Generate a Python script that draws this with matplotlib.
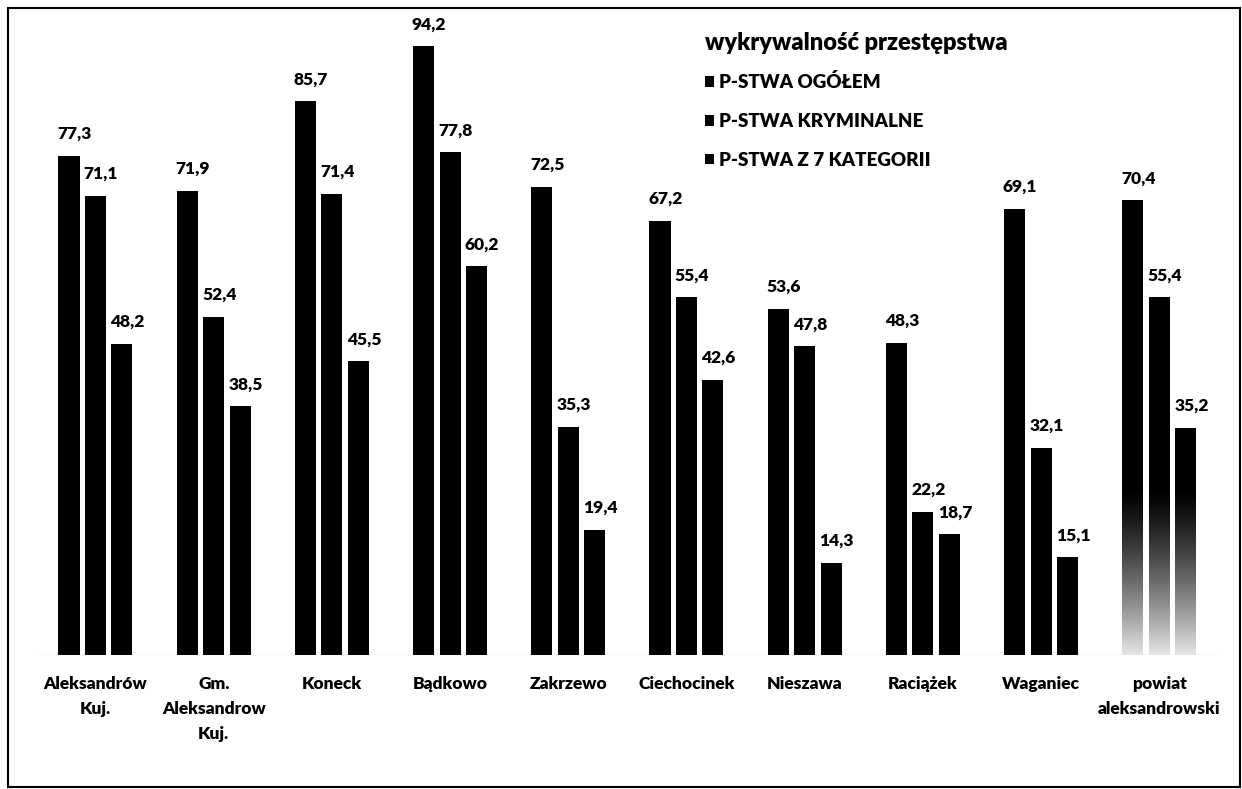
import matplotlib
matplotlib.use("Agg")
import matplotlib.pyplot as plt
import matplotlib.patches as mpatches
import numpy as np

categories = ["Aleksandrów\nKuj.", "Gm.\nAleksandrow\nKuj.", "Koneck", "Bądkowo", "Zakrzewo",
              "Ciechocinek", "Nieszawa", "Raciążek", "Waganiec", "powiat\naleksandrowski"]
series_names = ["P-STWA OGÓŁEM", "P-STWA KRYMINALNE", "P-STWA Z 7 KATEGORII"]
ogolem = [77.3, 71.9, 85.7, 94.2, 72.5, 67.2, 53.6, 48.3, 69.1, 70.4]
kryminalne = [71.1, 52.4, 71.4, 77.8, 35.3, 55.4, 47.8, 22.2, 32.1, 55.4]
kategorie7 = [48.2, 38.5, 45.5, 60.2, 19.4, 42.6, 14.3, 18.7, 15.1, 35.2]
legend_title = "wykrywalność przestępstwa"

plt.rcParams['font.family'] = ['Lato', 'DejaVu Sans']
W = 'heavy'

fig = plt.figure(figsize=(12.42, 7.89), dpi=100)
ax = fig.add_axes([0.0293, 0.1698, 0.9517, 0.8188])

x = np.arange(len(categories))
step = 0.224
width = 0.178
series = [ogolem, kryminalne, kategorie7]
containers = []
for j, vals in enumerate(series):
    bars = ax.bar(x + (j - 1) * step, vals, width, color='black', label=series_names[j], zorder=2)
    containers.append(bars)
    for b, v in zip(bars, vals):
        ax.annotate(f"{v:.1f}".replace('.', ','), (b.get_x() + b.get_width() / 2, b.get_height()),
                    xytext=(4, 10), textcoords='offset points', ha='center', va='bottom',
                    fontsize=12.5, fontweight=W, color='black')

# faded bottom on the last group (scan artefact)
grad = np.linspace(0, 1, 100).reshape(-1, 1)
rgba = np.ones((100, 1, 4))
rgba[..., 3] = (1 - grad) ** 1.3 * 0.9
for bars in containers:
    b = bars[-1]
    im = ax.imshow(rgba, extent=(b.get_x(), b.get_x() + b.get_width(), 0, 26),
                   origin='lower', aspect='auto', zorder=3, interpolation='bilinear')
    im.set_clip_path(b)

ax.set_xlim(-0.5, len(categories) - 0.5)
ax.set_ylim(0, 100)
ax.axhline(0, color='#999999', lw=1, ls=(0, (1, 2)), zorder=1)
for s in ax.spines.values():
    s.set_visible(False)
ax.set_yticks([])
ax.set_xticks(x)
ax.set_xticklabels(categories, fontsize=12.5, fontweight=W, linespacing=1.7)
ax.tick_params(axis='x', length=0, pad=15)

leg = ax.legend(loc='upper left', bbox_to_anchor=(705 / 1242, 1 - 32 / 789),
                bbox_transform=fig.transFigure, frameon=False, title=legend_title,
                alignment='left', handlelength=0.5, handleheight=0.5, handletextpad=0.25,
                labelspacing=1.15, borderpad=0, borderaxespad=0,
                prop={'size': 13.5, 'weight': W},
                title_fontproperties={'size': 17, 'weight': W})
leg._legend_box.sep = 14

# outer frame
fig.patches.append(mpatches.Rectangle((8 / 1242, 2 / 789), 1232 / 1242, 779 / 789,
                                      transform=fig.transFigure, fill=False,
                                      edgecolor='black', lw=1.5))

fig.savefig("out.png", dpi=100)
